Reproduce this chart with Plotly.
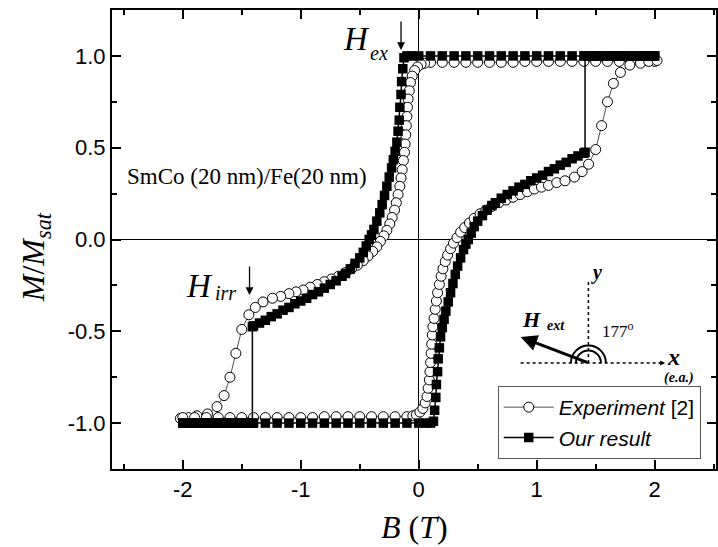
import plotly.graph_objects as go

# ---------------- Experiment [2] ----------------
# descending branch (+2 T -> -2 T)
exp_dn_b = [2.0, 1.9, 1.8, 1.7, 1.6, 1.5, 1.4, 1.3, 1.2, 1.1, 1.0, 0.9, 0.8, 0.7, 0.6, 0.5, 0.4, 0.3, 0.2, 0.1,
            0.05, 0.02, -0.01, -0.035, -0.055, -0.07, -0.08, -0.09, -0.095, -0.1, -0.105, -0.11, -0.115, -0.12,
            -0.13, -0.14, -0.15, -0.16, -0.175, -0.19, -0.205, -0.225, -0.245, -0.27, -0.295, -0.325, -0.355,
            -0.39, -0.43, -0.47, -0.52, -0.57, -0.62, -0.68, -0.74, -0.8, -0.86, -0.92, -0.98, -1.04, -1.1,
            -1.17, -1.24, -1.32, -1.385, -1.44, -1.5, -1.55, -1.6, -1.65, -1.71, -1.79, -1.88, -1.95, -2.02]
exp_dn_m = [0.97, 0.97, 0.97, 0.97, 0.97, 0.97, 0.97, 0.97, 0.97, 0.97, 0.97, 0.97, 0.965, 0.965, 0.965, 0.965,
            0.965, 0.965, 0.965, 0.965,
            0.96, 0.955, 0.94, 0.92, 0.89, 0.855, 0.81, 0.765, 0.72, 0.67, 0.62, 0.57, 0.52, 0.475,
            0.43, 0.38, 0.335, 0.29, 0.245, 0.2, 0.16, 0.12, 0.085, 0.05, 0.02, -0.01, -0.04,
            -0.065, -0.09, -0.115, -0.14, -0.16, -0.18, -0.2, -0.215, -0.23, -0.245, -0.26, -0.275, -0.285, -0.295,
            -0.31, -0.32, -0.34, -0.37, -0.41, -0.49, -0.62, -0.75, -0.85, -0.91, -0.95, -0.96, -0.97, -0.975]
# ascending branch (-2 T -> +2 T)
exp_up_b = [-2.0, -1.9, -1.8, -1.7, -1.6, -1.5, -1.4, -1.3, -1.2, -1.1, -1.0, -0.9, -0.8, -0.7, -0.6, -0.5, -0.4,
            -0.3, -0.2, -0.1,
            -0.05, -0.02, 0.01, 0.035, 0.055, 0.07, 0.08, 0.09, 0.095, 0.1, 0.105, 0.11, 0.115, 0.12,
            0.13, 0.14, 0.15, 0.16, 0.175, 0.19, 0.205, 0.225, 0.245, 0.27, 0.295, 0.325, 0.355,
            0.39, 0.43, 0.47, 0.52, 0.57, 0.62, 0.68, 0.74, 0.8, 0.86, 0.92, 0.98, 1.04, 1.1,
            1.17, 1.24, 1.32, 1.385, 1.44, 1.5, 1.55, 1.6, 1.65, 1.71, 1.79, 1.88, 1.95, 2.02]
exp_up_m = [-0.97, -0.97, -0.97, -0.97, -0.97, -0.97, -0.97, -0.97, -0.97, -0.97, -0.97, -0.97, -0.965, -0.965,
            -0.965, -0.965, -0.965, -0.965, -0.965, -0.965,
            -0.96, -0.955, -0.94, -0.92, -0.89, -0.855, -0.81, -0.765, -0.72, -0.67, -0.62, -0.57, -0.52, -0.475,
            -0.43, -0.38, -0.335, -0.29, -0.245, -0.2, -0.16, -0.12, -0.085, -0.05, -0.02, 0.01, 0.04,
            0.065, 0.09, 0.115, 0.14, 0.16, 0.18, 0.2, 0.215, 0.23, 0.245, 0.26, 0.275, 0.285, 0.295,
            0.31, 0.32, 0.34, 0.37, 0.41, 0.49, 0.62, 0.75, 0.85, 0.91, 0.95, 0.96, 0.97, 0.975]

# ---------------- Our result (simulation) ----------------
sim_dn_b = [2.0, 1.9, 1.8, 1.7, 1.6, 1.5, 1.4, 1.3, 1.2, 1.1, 1.0, 0.9, 0.8, 0.7, 0.6, 0.5, 0.4, 0.3, 0.2, 0.1, 0.0,
            -0.06, -0.1, -0.125, -0.135, -0.145, -0.15, -0.16, -0.165, -0.175, -0.185, -0.2, -0.215, -0.23, -0.25,
            -0.27, -0.29, -0.31, -0.33, -0.355, -0.38, -0.4, -0.42, -0.445, -0.47, -0.5, -0.54, -0.58, -0.62,
            -0.65, -0.7, -0.75, -0.8, -0.85, -0.9, -0.95, -1.0, -1.05, -1.1, -1.15, -1.2, -1.25, -1.3, -1.35,
            -1.4, -1.41, -1.41,
            -1.44, -1.47, -1.5, -1.53, -1.56, -1.59, -1.62, -1.65, -1.68, -1.71, -1.74, -1.77, -1.8, -1.83,
            -1.86, -1.89, -1.92, -1.95, -1.98, -2.0]
sim_dn_m = [1.0, 1.0, 1.0, 1.0, 1.0, 1.0, 1.0, 1.0, 1.0, 1.0, 1.0, 1.0, 1.0, 1.0, 1.0, 1.0, 1.0, 1.0, 1.0, 1.0, 1.0,
            1.0, 1.0, 0.99, 0.93, 0.86, 0.79, 0.72, 0.65, 0.59, 0.53, 0.48, 0.435, 0.39, 0.34,
            0.29, 0.24, 0.19, 0.145, 0.1, 0.055, 0.025, 0.0, -0.035, -0.07, -0.1, -0.13, -0.16, -0.185,
            -0.2, -0.225, -0.245, -0.265, -0.285, -0.3, -0.32, -0.335, -0.35, -0.37, -0.385, -0.405, -0.42, -0.44,
            -0.455, -0.47, -0.475, -1.0,
            -1.0, -1.0, -1.0, -1.0, -1.0, -1.0, -1.0, -1.0, -1.0, -1.0, -1.0, -1.0, -1.0, -1.0,
            -1.0, -1.0, -1.0, -1.0, -1.0, -1.0]
sim_up_b = [-2.0, -1.9, -1.8, -1.7, -1.6, -1.5, -1.4, -1.3, -1.2, -1.1, -1.0, -0.9, -0.8, -0.7, -0.6, -0.5, -0.4,
            -0.3, -0.2, -0.1, 0.0,
            0.06, 0.1, 0.125, 0.135, 0.145, 0.15, 0.16, 0.165, 0.175, 0.185, 0.2, 0.215, 0.23, 0.25,
            0.27, 0.29, 0.31, 0.33, 0.355, 0.38, 0.4, 0.42, 0.445, 0.47, 0.5, 0.54, 0.58, 0.62,
            0.65, 0.7, 0.75, 0.8, 0.85, 0.9, 0.95, 1.0, 1.05, 1.1, 1.15, 1.2, 1.25, 1.3, 1.35,
            1.4, 1.41, 1.41,
            1.44, 1.47, 1.5, 1.53, 1.56, 1.59, 1.62, 1.65, 1.68, 1.71, 1.74, 1.77, 1.8, 1.83,
            1.86, 1.89, 1.92, 1.95, 1.98, 2.0]
sim_up_m = [-1.0, -1.0, -1.0, -1.0, -1.0, -1.0, -1.0, -1.0, -1.0, -1.0, -1.0, -1.0, -1.0, -1.0, -1.0, -1.0, -1.0,
            -1.0, -1.0, -1.0, -1.0,
            -1.0, -1.0, -0.99, -0.93, -0.86, -0.79, -0.72, -0.65, -0.59, -0.53, -0.48, -0.435, -0.39, -0.34,
            -0.29, -0.24, -0.19, -0.145, -0.1, -0.055, -0.025, 0.0, 0.035, 0.07, 0.1, 0.13, 0.16, 0.185,
            0.2, 0.225, 0.245, 0.265, 0.285, 0.3, 0.32, 0.335, 0.35, 0.37, 0.385, 0.405, 0.42, 0.44,
            0.455, 0.47, 0.475, 1.0,
            1.0, 1.0, 1.0, 1.0, 1.0, 1.0, 1.0, 1.0, 1.0, 1.0, 1.0, 1.0, 1.0, 1.0,
            1.0, 1.0, 1.0, 1.0, 1.0, 1.0]

x_tick_vals = [-2, -1, 0, 1, 2]
x_tick_text = ["-2", "-1", "0", "1", "2"]
y_tick_vals = [-1.0, -0.5, 0.0, 0.5, 1.0]
y_tick_text = ["-1.0", "-0.5", "0.0", "0.5", "1.0"]

SERIF = "Liberation Serif"
SANS = "Liberation Sans"

# plot-area geometry in pixels, used to place the text labels
L, T, W, H = 112, 10, 606, 459


def px(x):
    return (x - L) / W


def py(y):
    return (T + H - y) / H


fig = go.Figure()
fig.add_trace(go.Scatter(
    x=exp_dn_b + exp_up_b, y=exp_dn_m + exp_up_m,
    mode="lines+markers", name="<i>Experiment</i> [2]",
    line=dict(color="#222", width=0.8),
    marker=dict(symbol="circle", size=10, color="white", line=dict(color="black", width=1)),
))
fig.add_trace(go.Scatter(
    x=sim_dn_b + sim_up_b, y=sim_dn_m + sim_up_m,
    mode="lines+markers", name="<i>Our result</i>",
    line=dict(color="black", width=1.5),
    marker=dict(symbol="square", size=9.5, color="black", line=dict(width=0)),
))

axis_common = dict(
    showline=True, linecolor="black", linewidth=2, mirror="ticks",
    ticks="inside", ticklen=9, tickwidth=1.5, tickcolor="black",
    showgrid=False, zeroline=True, zerolinecolor="black", zerolinewidth=1.3,
    tickfont=dict(family=SANS, size=22, color="black"),
)
fig.update_xaxes(range=[-2.6, 2.52], tickmode="array", tickvals=x_tick_vals, ticktext=x_tick_text,
                 minor=dict(dtick=0.5, ticks="inside", ticklen=5, tickwidth=1.5, tickcolor="black"),
                 **axis_common)
fig.update_yaxes(range=[-1.25, 1.25], tickmode="array", tickvals=y_tick_vals, ticktext=y_tick_text,
                 minor=dict(dtick=0.25, ticks="inside", ticklen=5, tickwidth=1.5, tickcolor="black"),
                 **axis_common)

annotations = []


def label(text, x, y, size, family=SERIF, angle=0):
    annotations.append(dict(text=text, x=px(x), y=py(y), xref="paper", yref="paper",
                            xanchor="center", yanchor="middle", showarrow=False, textangle=angle,
                            font=dict(family=family, size=size, color="black")))


def arrow(tip_x, tip_y, ax, ay, width, head=2, size=1.0):
    annotations.append(dict(text="", x=px(tip_x), y=py(tip_y), xref="paper", yref="paper",
                            ax=ax, ay=ay, showarrow=True, arrowhead=head, arrowsize=size,
                            arrowwidth=width, arrowcolor="black"))


# axis titles
label("<i>B</i> (<i>T</i>)", 415, 527, 32)
label("<i>M</i>/<i>M</i><sub><i>sat</i></sub>", 35, 257, 32, angle=-90)

# sample description
label("SmCo (20 nm)/Fe(20 nm)", 247, 176, 23)

# exchange and irreversible fields
label("<i>H</i>", 357, 39, 33)
label("<i>ex</i>", 380, 53, 20)
arrow(402, 50, 0, -30, 1.3, size=1.2)
label("<i>H</i>", 200, 286, 33)
label("<i>irr</i>", 226, 293, 20)
arrow(250, 295, 0, -30, 1.3, size=1.2)

# field-direction sketch
label("<b><i>H</i></b>", 533, 319, 22)
label("<b><i>ext</i></b>", 557, 326, 14)
label("177<sup>o</sup>", 620, 330, 17)
label("<b><i>x</i></b>", 675, 357, 24)
label("<b><i>(e.a.)</i></b>", 681, 378, 14)
label("<b><i>y</i></b>", 598, 272, 20)
arrow(522, 337, 68, 26, 3, size=1.1)
arrow(667, 363, -8, 0, 1, size=1.0)

shapes = [
    dict(type="line", xref="paper", yref="paper", x0=px(522), y0=py(363), x1=px(662), y1=py(363),
         line=dict(color="black", width=1.5, dash="dot")),
    dict(type="line", xref="paper", yref="paper", x0=px(590), y0=py(282), x1=px(590), y1=py(363),
         line=dict(color="black", width=1.5, dash="dot")),
]
for r in (12.5, 17.5):
    k = 0.5523 * r
    shapes.append(dict(
        type="path", xref="paper", yref="paper", xsizemode="pixel", ysizemode="pixel",
        xanchor=px(590), yanchor=py(363),
        path=f"M {r},0 C {r},{k} {k},{r} 0,{r} C {-k},{r} {-r},{k} {-r},0",
        line=dict(color="black", width=2)))

fig.update_layout(
    width=718, height=547,
    margin=dict(l=L, r=718 - L - W, t=T, b=547 - T - H),
    paper_bgcolor="white", plot_bgcolor="white",
    showlegend=True,
    legend=dict(x=px(499), y=py(386), xanchor="left", yanchor="top",
                bgcolor="white", bordercolor="#555", borderwidth=1,
                font=dict(family=SANS, size=21, color="black"), itemwidth=50,
                tracegroupgap=0),
    annotations=annotations, shapes=shapes,
)

fig.write_html("out.html")
